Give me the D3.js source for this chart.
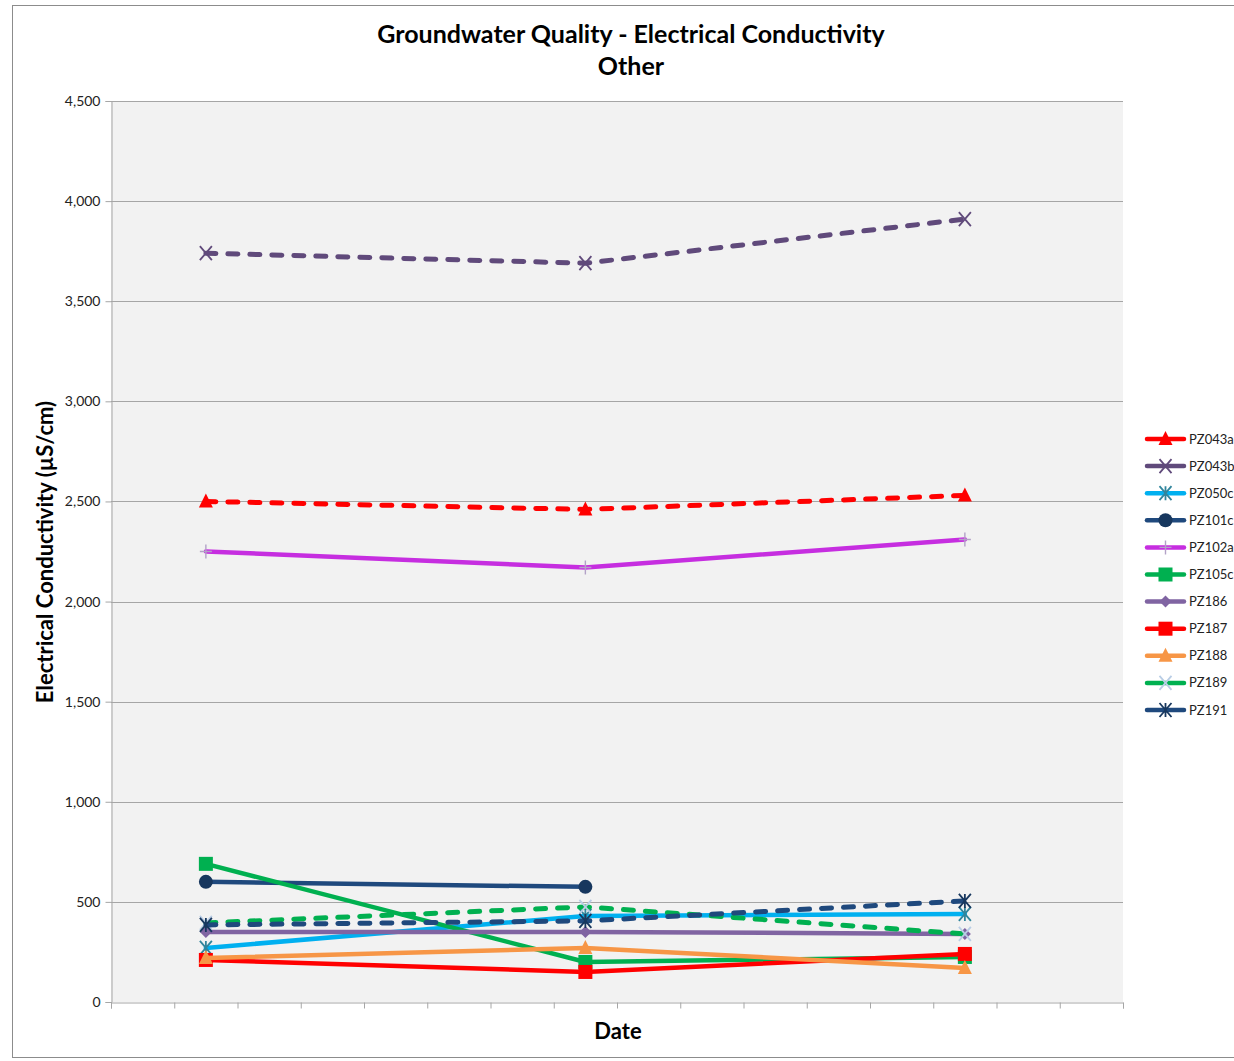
<!DOCTYPE html>
<html><head><meta charset="utf-8">
<script src="https://cdn.jsdelivr.net/npm/d3@7"></script>
<style>
body{margin:0;background:#fff;}
svg{display:block;}
text{font-family:Lato,"Open Sans",sans-serif;}
</style></head>
<body><svg id="c" width="1234" height="1061"></svg>
<script>
// ---- data ----
const datePositions = [1.5, 7.5, 13.5];           // sampling dates on the date axis (tick units)
const xTickValues = d3.range(0, 17);               // date axis ticks (labels blank)
const yTickValues = [0, 500, 1000, 1500, 2000, 2500, 3000, 3500, 4000, 4500];
const seriesNames = ["PZ043a","PZ043b","PZ050c","PZ101c","PZ102a","PZ105c","PZ186","PZ187","PZ188","PZ189","PZ191"];
const PZ043a = [2500, 2460, 2530];
const PZ043b = [3740, 3690, 3910];
const PZ050c = [270, 430, 440];
const PZ101c = [600, 575, null];
const PZ102a = [2250, 2170, 2310];
const PZ105c = [690, 200, 225];
const PZ186  = [350, 350, 340];
const PZ187  = [210, 150, 240];
const PZ188  = [220, 270, 170];
const PZ189  = [395, 475, 340];
const PZ191  = [385, 405, 505];
const seriesValues = [PZ043a,PZ043b,PZ050c,PZ101c,PZ102a,PZ105c,PZ186,PZ187,PZ188,PZ189,PZ191];

// ---- styles ----
const styles = {
  PZ043a:{line:"#FF0000", dash:true,  marker:"triangle", mcol:"#FF0000"},
  PZ043b:{line:"#604A7B", dash:true,  marker:"x",        mcol:"#604A7B"},
  PZ050c:{line:"#00B0F0", dash:false, marker:"asterisk", mcol:"#31859C"},
  PZ101c:{line:"#1F497D", dash:false, marker:"circle",   mcol:"#17375E"},
  PZ102a:{line:"#C62EE0", dash:false, marker:"plus",     mcol:"#B3A2C7"},
  PZ105c:{line:"#00B050", dash:false, marker:"square",   mcol:"#00B050"},
  PZ186: {line:"#8064A2", dash:false, marker:"diamond",  mcol:"#8064A2"},
  PZ187: {line:"#FF0000", dash:false, marker:"square",   mcol:"#FF0000"},
  PZ188: {line:"#F79646", dash:false, marker:"triangle", mcol:"#F79646"},
  PZ189: {line:"#00B050", dash:true,  marker:"x",        mcol:"#B9CDE5"},
  PZ191: {line:"#1F497D", dash:true,  marker:"asterisk", mcol:"#17375E"}
};

const svg = d3.select("#c");
const L = 111, R = 1123, T = 101, B = 1002;
const x = d3.scaleLinear().domain([0, 16]).range([L, R]);
const y = d3.scaleLinear().domain([0, 4500]).range([B, T]);

// outer border
svg.append("rect").attr("x",12.5).attr("y",5.5).attr("width",1240).attr("height",1052)
  .attr("fill","#fff").attr("stroke","#8c8c8c").attr("stroke-width",1);

// plot background
svg.append("rect").attr("x",L).attr("y",T).attr("width",R-L).attr("height",B-T).attr("fill","#F2F2F2");

// grid
svg.append("g").selectAll("line").data(yTickValues.filter(d=>d>0)).join("line")
  .attr("x1",L).attr("x2",R).attr("y1",d=>Math.round(y(d))+0.5).attr("y2",d=>Math.round(y(d))+0.5)
  .attr("stroke","#A6A6A6").attr("stroke-width",1);

// y axis
const yAxis = svg.append("g").attr("transform",`translate(${L+0.5},0)`)
  .call(d3.axisLeft(y).tickValues(yTickValues).tickFormat(d3.format(",")).tickSize(6).tickPadding(5));
yAxis.select(".domain").attr("stroke","#A6A6A6");
yAxis.selectAll(".tick line").attr("stroke","#A6A6A6");
yAxis.selectAll("text").attr("font-size",14).attr("fill","#222").attr("font-family","Lato,sans-serif");

// x axis
const xAxis = svg.append("g").attr("transform",`translate(0,${B+0.5})`)
  .call(d3.axisBottom(x).tickValues(xTickValues).tickFormat(()=> "").tickSize(6));
xAxis.select(".domain").attr("stroke","#A6A6A6");
xAxis.selectAll(".tick line").attr("stroke","#A6A6A6");

// titles
svg.append("text").attr("x",631).attr("y",43).attr("text-anchor","middle")
  .attr("font-size",25).attr("font-weight","bold").attr("fill","#000")
  .text("Groundwater Quality - Electrical Conductivity");
svg.append("text").attr("x",631).attr("y",75).attr("text-anchor","middle")
  .attr("font-size",25).attr("font-weight","bold").attr("fill","#000").text("Other");
svg.append("text").attr("x",618).attr("y",1039).attr("text-anchor","middle")
  .attr("font-size",22).attr("font-weight","bold").text("Date");
svg.append("text").attr("transform","translate(53,552) rotate(-90)").attr("text-anchor","middle")
  .attr("font-size",22).attr("font-weight","bold").text("Electrical Conductivity (µS/cm)");

// markers
function drawMarker(g, type, col, cx, cy){
  const s = 7;
  if(type==="triangle"){
    g.append("path").attr("d",`M${cx},${cy-s-1}L${cx+s},${cy+s-1}L${cx-s},${cy+s-1}Z`).attr("fill",col);
  } else if(type==="square"){
    g.append("rect").attr("x",cx-s).attr("y",cy-s).attr("width",2*s).attr("height",2*s).attr("fill",col);
  } else if(type==="circle"){
    g.append("circle").attr("cx",cx).attr("cy",cy).attr("r",s).attr("fill",col);
  } else if(type==="diamond"){
    g.append("path").attr("d",`M${cx},${cy-6}L${cx+6},${cy}L${cx},${cy+6}L${cx-6},${cy}Z`).attr("fill",col);
  } else if(type==="x"){
    g.append("path").attr("d",`M${cx-6},${cy-7}L${cx+6},${cy+7}M${cx+6},${cy-7}L${cx-6},${cy+7}`)
      .attr("stroke",col).attr("stroke-width",1.8).attr("fill","none");
  } else if(type==="asterisk"){
    g.append("path").attr("d",`M${cx-6},${cy-7}L${cx+6},${cy+7}M${cx+6},${cy-7}L${cx-6},${cy+7}M${cx},${cy-7}L${cx},${cy+7}`)
      .attr("stroke",col).attr("stroke-width",1.8).attr("fill","none");
  } else if(type==="plus"){
    g.append("path").attr("d",`M${cx-6},${cy}L${cx+6},${cy}M${cx},${cy-7}L${cx},${cy+7}`)
      .attr("stroke",col).attr("stroke-width",1.4).attr("fill","none");
  }
}

const line = d3.line().defined(d=>d.v!=null).x(d=>x(d.t)).y(d=>y(d.v));
const plot = svg.append("g");
seriesNames.forEach((name,i)=>{
  const st = styles[name];
  const pts = seriesValues[i].map((v,j)=>({t:datePositions[j], v}));
  const g = plot.append("g");
  g.append("path").datum(pts).attr("d",line).attr("fill","none")
    .attr("stroke",st.line).attr("stroke-width",st.dash ? 5 : 4.5)
    .attr("stroke-linecap","round").attr("stroke-linejoin","round")
    .attr("stroke-dasharray", st.dash ? "10,12" : null);
  pts.filter(p=>p.v!=null).forEach(p=>drawMarker(g, st.marker, st.mcol, x(p.t), y(p.v)));
});

// legend
const lg = svg.append("g");
seriesNames.forEach((name,i)=>{
  const st = styles[name];
  const cy = 439 + i*27.1;
  lg.append("line").attr("x1",1147).attr("x2",1184).attr("y1",cy).attr("y2",cy)
    .attr("stroke",st.line).attr("stroke-width",4.5).attr("stroke-linecap","round");
  drawMarker(lg, st.marker, st.mcol, 1165.5, cy);
  lg.append("text").attr("x",1189).attr("y",cy+4.5).attr("font-size",13).attr("fill","#222").text(name);
});
</script></body></html>
